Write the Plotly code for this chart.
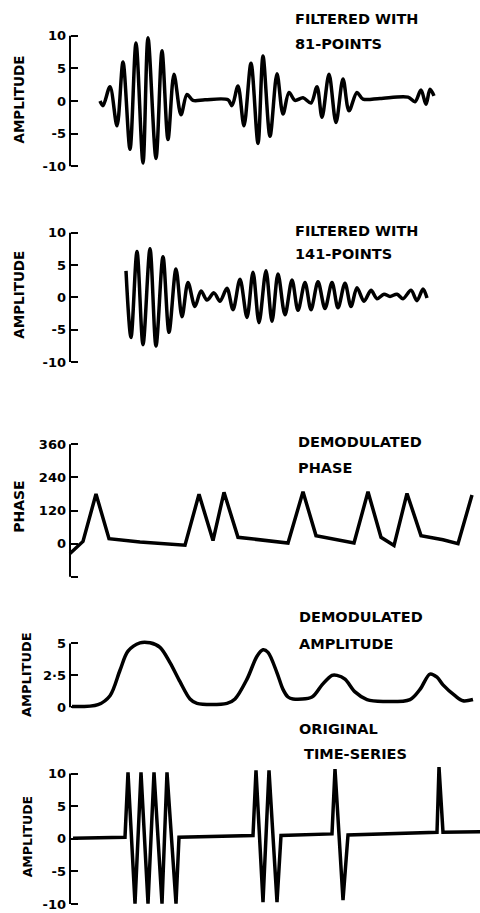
import plotly.graph_objects as go

# ---------------- data (time index, value) ----------------
t_f81 = [30, 33, 40, 47, 53, 60, 66, 73, 78, 86, 92, 98, 104, 111, 117, 123, 135, 158, 162, 168,
         174, 181, 188, 193, 200, 207, 213, 219, 225, 233, 241, 247, 252, 259, 266, 273, 279, 287,
         293, 310, 338, 345, 351, 356, 360, 364]
v_f81 = [0, -0.7, 2.2, -3.8, 6.0, -7.4, 8.9, -9.5, 9.7, -8.8, 7.7, -5.9, 4.1, -2.1, 1.0, 0.1, 0.2, 0.2, -0.7, 2.3,
         -3.8, 5.8, -6.5, 6.9, -5.4, 4.2, -2.0, 1.3, 0.1, 0.5, -0.3, 2.2, -2.5, 4.1, -3.3, 3.4, -1.5, 1.3,
         0.3, 0.4, 0.6, -0.1, 1.7, -0.5, 1.8, 0.8]

t_f141 = [56, 61, 67, 73, 80, 86, 93, 99, 106, 112, 118, 125, 131, 137, 144, 150, 157, 163, 170, 177,
          183, 189, 196, 202, 208, 215, 222, 228, 235, 241, 248, 255, 262, 268, 275, 281, 287, 294,
          301, 307, 314, 320, 327, 333, 341, 347, 353, 357]
v_f141 = [4.1, -6.2, 7.1, -7.3, 7.5, -7.5, 6.3, -5.4, 4.4, -3.0, 2.3, -1.4, 1.0, -0.4, 0.7, -0.6, 1.4, -1.9, 2.8, -3.1,
          3.9, -3.9, 4.1, -3.7, 3.6, -2.7, 2.7, -2.0, 2.3, -1.9, 2.4, -1.7, 2.3, -1.6, 2.2, -1.4, 1.5, -0.6,
          1.1, -0.2, 0.5, 0.15, 0.5, -0.2, 1.1, -0.5, 1.3, -0.1]

t_phase = [0, 13, 26, 39, 70, 115, 129, 143, 154, 168, 218, 233, 246, 284, 298, 311, 324, 337, 351, 373, 388, 402]
v_phase = [-36, 8, 180, 18, 6, -6, 179, 11, 186, 23, 2, 188, 29, 2, 188, 23, -7, 182, 29, 14, 0, 176]

t_amp = [2, 28, 40, 50, 58, 70, 80, 90, 100, 110, 120, 127, 157, 165, 177, 187, 193, 198, 207, 213, 218, 223,
         242, 252, 262, 267, 275, 285, 297, 313, 340, 350, 360, 367, 373, 385, 393, 403]
v_amp = [0.05, 0.2, 0.9, 2.9, 4.4, 5.05, 5.05, 4.7, 3.5, 2.0, 0.65, 0.3, 0.3, 0.65, 2.2, 4.0, 4.5, 4.3, 2.7, 1.4, 0.8, 0.65,
         0.8, 1.75, 2.5, 2.5, 2.2, 1.2, 0.6, 0.45, 0.6, 1.4, 2.6, 2.35, 1.75, 0.9, 0.5, 0.6]

t_orig = [3, 55, 58, 65, 71, 78, 84, 92, 97, 106, 109, 183, 186, 193, 199, 207, 211, 262, 265, 273, 278, 367, 369, 373, 410]
v_orig = [0.1, 0.25, 10.2, -9.95, 10.2, -9.95, 10.2, -9.95, 10.2, -9.95, 0.25, 0.5, 10.5, -9.7, 10.5, -9.7, 0.5,
          0.75, 10.7, -9.4, 0.6, 1.0, 11.0, 1.0, 1.1]

# tick labels
amp_ticks = [-10, -5, 0, 5, 10]
amp_text = ["-10", "-5", "0", "5", "10"]
phase_ticks = [-120, 0, 120, 240, 360]
phase_text = ["", "0", "120", "240", "360"]
damp_ticks = [0, 2.5, 5]
damp_text = ["0", "2·5", "5"]

titles = [("FILTERED WITH", "81-POINTS"), ("FILTERED WITH", "141-POINTS"),
          ("DEMODULATED", "PHASE"), ("DEMODULATED", "AMPLITUDE"), ("ORIGINAL", "TIME-SERIES")]
ylabels = ["AMPLITUDE", "AMPLITUDE", "PHASE", "AMPLITUDE", "AMPLITUDE"]

# ---------------- layout helpers ----------------
H, W = 913, 480
AX_X = 70 / W
FONT = "DejaVu Sans"


def domain(va, pa, vb, pb, lo, hi):
    # value va at pixel pa, vb at pb (pixel y from top)
    k = (pb - pa) / (vb - va)
    p_lo = pa + (lo - va) * k
    p_hi = pa + (hi - va) * k
    return [1 - p_lo / H, 1 - p_hi / H]


panels = [
    dict(t=t_f81, v=v_f81, shape="spline", ref=(10, 34, -10, 165), rng=(-11, 11), line=(-10, 10),
         tv=amp_ticks, tt=amp_text),
    dict(t=t_f141, v=v_f141, shape="spline", ref=(10, 231.7, -10, 361.7), rng=(-11, 11), line=(-10, 10),
         tv=amp_ticks, tt=amp_text),
    dict(t=t_phase, v=v_phase, shape="linear", ref=(360, 444.3, 0, 544), rng=(-140, 380), line=(-120, 360),
         tv=phase_ticks, tt=phase_text),
    dict(t=t_amp, v=v_amp, shape="spline", ref=(5, 644.3, 0, 708.3), rng=(-0.4, 5.5), line=(0, 5),
         tv=damp_ticks, tt=damp_text),
    dict(t=t_orig, v=v_orig, shape="linear", ref=(10, 775, -10, 906), rng=(-11, 12), line=(-10, 10),
         tv=amp_ticks, tt=amp_text),
]

title_pos = [((293, 17), (293, 42)), ((293, 230), (293, 253)), ((296, 442), (296, 468)),
             ((297, 618), (297, 645)), ((297, 730), (302, 755))]
ylab_pos = [(19, 98), (19, 294), (19, 507), (26, 676), (27, 839)]
ylab_size = [13.5, 13.5, 14, 13, 12.5]

fig = go.Figure()
shapes = []
annotations = []
lay = {}

for i, p in enumerate(panels):
    n = i + 1
    yname = "y" if n == 1 else f"y{n}"
    ykey = "yaxis" if n == 1 else f"yaxis{n}"
    fig.add_trace(go.Scatter(x=p["t"], y=p["v"], mode="lines", xaxis="x", yaxis=yname,
                             line=dict(color="black", width=3.5, shape=p["shape"], smoothing=0.9),
                             showlegend=False, hoverinfo="skip"))
    va, pa, vb, pb = p["ref"]
    lay[ykey] = dict(domain=domain(va, pa, vb, pb, *p["rng"]), range=list(p["rng"]),
                     anchor="free", position=AX_X, showline=False, showgrid=False, zeroline=False,
                     ticks="inside", ticklen=7, tickwidth=2, tickcolor="black",
                     tickvals=p["tv"], ticktext=p["tt"], ticklabelstandoff=4,
                     tickfont=dict(family=FONT, size=13, color="black", weight=700),
                     fixedrange=True)
    shapes.append(dict(type="line", xref="paper", yref=yname, x0=AX_X, x1=AX_X,
                       y0=p["line"][0], y1=p["line"][1], line=dict(color="black", width=2)))
    for (xx, yy), txt in zip(title_pos[i], titles[i]):
        annotations.append(dict(x=xx / W, y=1 - yy / H, xref="paper", yref="paper", text=txt,
                                showarrow=False, xanchor="left", yanchor="middle",
                                font=dict(family=FONT, size=14.5, color="black", weight=700)))
    lx, ly = ylab_pos[i]
    annotations.append(dict(x=lx / W, y=1 - ly / H, xref="paper", yref="paper", text=ylabels[i],
                            showarrow=False, xanchor="center", yanchor="middle", textangle=-90,
                            font=dict(family=FONT, size=ylab_size[i], color="black", weight=700)))

fig.update_layout(
    width=W, height=H,
    margin=dict(l=0, r=0, t=0, b=0),
    paper_bgcolor="white", plot_bgcolor="white",
    xaxis=dict(domain=[0.1, 1.0], range=[-22, 410], visible=False, fixedrange=True),
    shapes=shapes, annotations=annotations,
    **lay,
)

fig.write_html("out.html", config={"displayModeBar": False})
